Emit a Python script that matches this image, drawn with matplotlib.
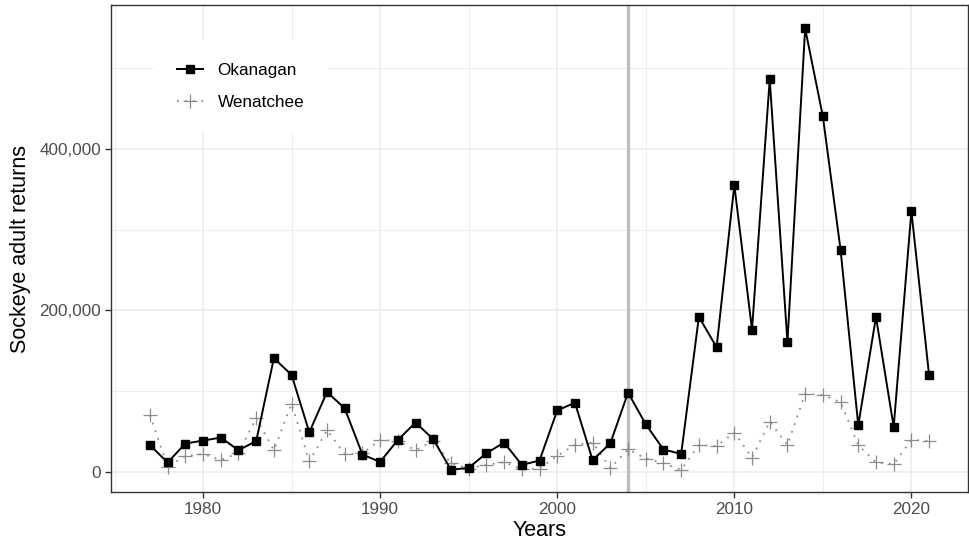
import numpy as np
import matplotlib.pyplot as plt
from matplotlib.ticker import FuncFormatter, MultipleLocator

plt.rcParams['font.family'] = ['Liberation Sans', 'DejaVu Sans']

years = list(range(1977, 2022))

okanagan = [33000, 11600, 35000, 38700, 42400, 26800, 38000, 140700, 120000, 49000,
            98800, 78600, 21400, 12300, 39500, 61000, 40400, 2500, 5000, 23000,
            36300, 8600, 14000, 76000, 85600, 14400, 35400, 98000, 58900, 27600,
            22200, 191800, 154300, 355000, 176000, 486000, 160500, 549000, 440000, 275000,
            57600, 191800, 55600, 322700, 119400]

wenatchee = [70400, 6200, 19800, 21900, 14800, 23000, 66700, 26800, 84400, 12800,
             51500, 21900, 22700, 39500, 38300, 26800, 38300, 10700, 4000, 8600,
             12000, 3300, 4100, 19800, 33300, 36300, 4500, 28000, 16500, 10700,
             2500, 33000, 32000, 48600, 17700, 62200, 33300, 96800, 95000, 86400,
             33000, 11600, 9500, 39500, 38300]

marker_year = 2004

fig = plt.figure(figsize=(9.7, 5.47), dpi=100)
ax = fig.add_axes([0.1144, 0.1005, 0.8836, 0.8904])

ax.axvline(marker_year, color="#BEBEBE", linewidth=2.4, zorder=1)

ax.plot(years, wenatchee, color="#8C8C8C", linestyle=(0, (1, 3.5)), linewidth=1.3,
        marker="+", markersize=10, markeredgewidth=0.9, label="Wenatchee", zorder=2)
ax.plot(years, okanagan, color="black", linestyle="-", linewidth=1.4,
        marker="s", markersize=6, label="Okanagan", zorder=3)

ax.set_xlim(1974.8, 2023.2)
ax.set_ylim(-25000, 578000)

ax.xaxis.set_major_locator(MultipleLocator(10))
ax.xaxis.set_minor_locator(MultipleLocator(5))
ax.yaxis.set_major_locator(MultipleLocator(200000))
ax.yaxis.set_minor_locator(MultipleLocator(100000))
ax.yaxis.set_major_formatter(FuncFormatter(lambda v, p: f"{int(v):,}"))

ax.grid(which="major", color="#EBEBEB", linewidth=1.1, zorder=0)
ax.grid(which="minor", color="#EBEBEB", linewidth=0.6, zorder=0)
ax.set_axisbelow(True)

for s in ax.spines.values():
    s.set_color("#333333")
    s.set_linewidth(1.0)

ax.tick_params(which="major", length=4, width=1.0, color="#333333",
               labelsize=12.3, labelcolor="#4D4D4D", pad=3)
ax.tick_params(which="minor", length=0)

ax.set_xlabel("Years", fontsize=15.5, labelpad=2)
ax.set_ylabel("Sockeye adult returns", fontsize=15.5, labelpad=6)

handles, labels = ax.get_legend_handles_labels()
leg = ax.legend(handles[::-1], labels[::-1], loc="upper left",
                bbox_to_anchor=(0.0408, 0.945), frameon=True, fontsize=12.3,
                handlelength=1.55, handletextpad=0.85, labelspacing=1.0,
                borderpad=1.3)
leg.get_frame().set_edgecolor("white")
leg.get_frame().set_facecolor("white")
leg.get_frame().set_alpha(1)
leg.get_frame().set_boxstyle("square", pad=0)

plt.savefig("out.png", dpi=100)
